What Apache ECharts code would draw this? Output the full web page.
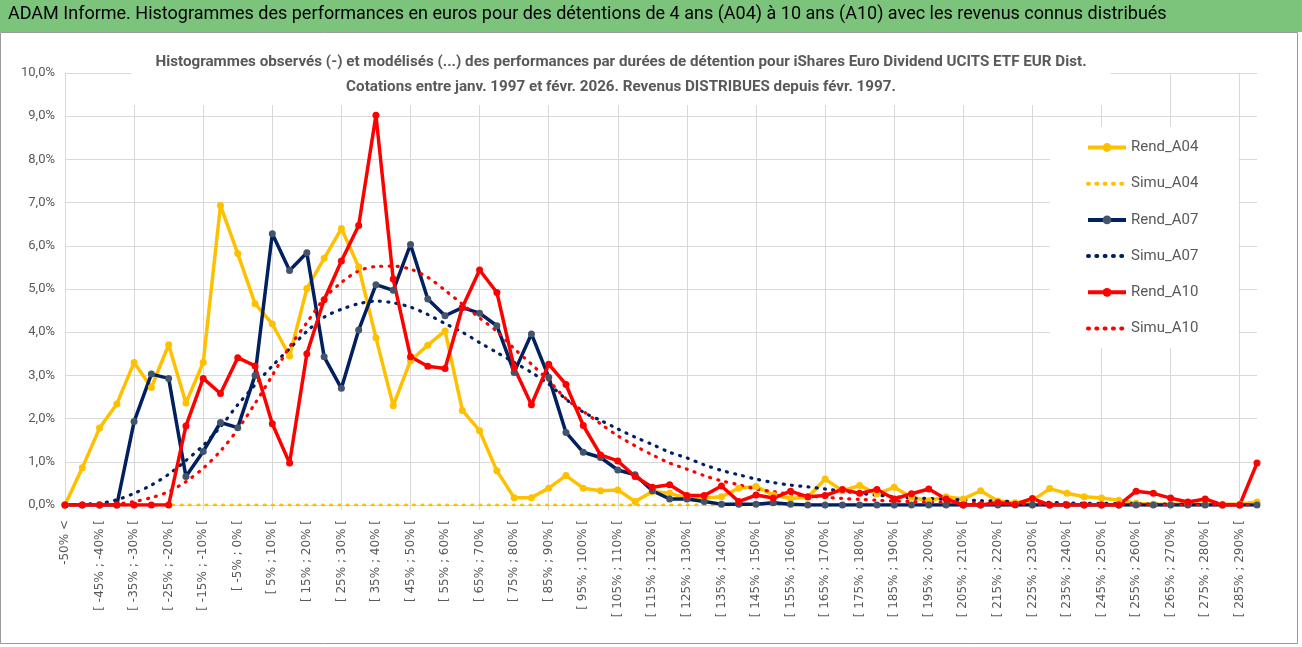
<!DOCTYPE html>
<html>
<head>
<meta charset="utf-8">
<script src="https://cdn.jsdelivr.net/npm/echarts@6/dist/echarts.min.js"></script>
<style>
  html, body { margin: 0; padding: 0; background: #fff; }
  #chart { width: 1302px; height: 647px; }
</style>
</head>
<body>
<div id="chart"></div>
<script>
// classes de performance (pas de 5%)
var categories = [
    "-50% <", "[ -50% ; -45% [", "[ -45% ; -40% [", "[ -40% ; -35% [", "[ -35% ; -30% [",
    "[ -30% ; -25% [", "[ -25% ; -20% [", "[ -20% ; -15% [", "[ -15% ; -10% [", "[ -10% ; -5% [",
    "[ -5% ; 0% [", "[ 0% ; 5% [", "[ 5% ; 10% [", "[ 10% ; 15% [", "[ 15% ; 20% [",
    "[ 20% ; 25% [", "[ 25% ; 30% [", "[ 30% ; 35% [", "[ 35% ; 40% [", "[ 40% ; 45% [",
    "[ 45% ; 50% [", "[ 50% ; 55% [", "[ 55% ; 60% [", "[ 60% ; 65% [", "[ 65% ; 70% [",
    "[ 70% ; 75% [", "[ 75% ; 80% [", "[ 80% ; 85% [", "[ 85% ; 90% [", "[ 90% ; 95% [",
    "[ 95% ; 100% [", "[ 100% ; 105% [", "[ 105% ; 110% [", "[ 110% ; 115% [", "[ 115% ; 120% [",
    "[ 120% ; 125% [", "[ 125% ; 130% [", "[ 130% ; 135% [", "[ 135% ; 140% [", "[ 140% ; 145% [",
    "[ 145% ; 150% [", "[ 150% ; 155% [", "[ 155% ; 160% [", "[ 160% ; 165% [", "[ 165% ; 170% [",
    "[ 170% ; 175% [", "[ 175% ; 180% [", "[ 180% ; 185% [", "[ 185% ; 190% [", "[ 190% ; 195% [",
    "[ 195% ; 200% [", "[ 200% ; 205% [", "[ 205% ; 210% [", "[ 210% ; 215% [", "[ 215% ; 220% [",
    "[ 220% ; 225% [", "[ 225% ; 230% [", "[ 230% ; 235% [", "[ 235% ; 240% [", "[ 240% ; 245% [",
    "[ 245% ; 250% [", "[ 250% ; 255% [", "[ 255% ; 260% [", "[ 260% ; 265% [", "[ 265% ; 270% [",
    "[ 270% ; 275% [", "[ 275% ; 280% [", "[ 280% ; 285% [", "[ 285% ; 290% [", "[ 290% ; 295% ["
];

// valeurs en %
var rendA04 = [
    0, 0.86, 1.78, 2.34, 3.30, 2.72, 3.71, 2.36, 3.30, 6.93,
    5.82, 4.66, 4.19, 3.45, 5.01, 5.71, 6.40, 5.51, 3.87, 2.30,
    3.34, 3.70, 4.03, 2.19, 1.72, 0.79, 0.17, 0.17, 0.39, 0.68,
    0.39, 0.33, 0.35, 0.08, 0.31, 0.27, 0.16, 0.16, 0.19, 0.39,
    0.43, 0.23, 0.15, 0.18, 0.60, 0.33, 0.45, 0.26, 0.41, 0.18,
    0.10, 0.19, 0.14, 0.33, 0.09, 0.05, 0.10, 0.38, 0.27, 0.19,
    0.16, 0.11, 0.04, 0.02, 0.02, 0.02, 0.02, 0.02, 0.02, 0.07
];
var simuA04 = [
    0, 0, 0, 0, 0, 0, 0, 0, 0, 0,
    0, 0, 0, 0, 0, 0, 0, 0, 0, 0,
    0, 0, 0, 0, 0, 0, 0, 0, 0, 0,
    0, 0, 0, 0, 0, 0, 0, 0, 0, 0,
    0, 0, 0, 0, 0, 0, 0, 0, 0, 0,
    0, 0, 0, 0, 0, 0, 0, 0, 0, 0,
    0, 0, 0, 0, 0, 0, 0, 0, 0, 0
];
var rendA07 = [
    0, 0, 0, 0, 1.93, 3.03, 2.93, 0.66, 1.24, 1.91,
    1.79, 3.00, 6.28, 5.43, 5.84, 3.43, 2.70, 4.05, 5.10, 4.97,
    6.03, 4.77, 4.38, 4.57, 4.44, 4.15, 3.07, 3.96, 2.96, 1.68,
    1.22, 1.10, 0.81, 0.70, 0.33, 0.14, 0.14, 0.08, 0.02, 0.02,
    0.02, 0.05, 0.02, 0, 0, 0, 0, 0, 0, 0,
    0, 0, 0, 0, 0, 0, 0, 0, 0, 0,
    0, 0, 0, 0, 0, 0, 0, 0, 0, 0
];
var simuA07 = [
    0, 0.02, 0.04, 0.12, 0.27, 0.46, 0.71, 1.03, 1.38, 1.81,
    2.32, 2.78, 3.22, 3.62, 4.02, 4.35, 4.53, 4.66, 4.72, 4.68,
    4.58, 4.41, 4.20, 4.00, 3.76, 3.53, 3.30, 3.07, 2.80, 2.45,
    2.15, 1.96, 1.76, 1.57, 1.40, 1.22, 1.09, 0.93, 0.80, 0.70,
    0.60, 0.52, 0.46, 0.42, 0.37, 0.32, 0.27, 0.23, 0.19, 0.16,
    0.15, 0.13, 0.12, 0.10, 0.09, 0.08, 0.07, 0.06, 0.05, 0.04,
    0.04, 0.03, 0.03, 0.02, 0.02, 0.02, 0.01, 0.01, 0.01, 0.01
];
var rendA10 = [
    0, 0, 0, 0, 0, 0, 0, 1.83, 2.93, 2.58,
    3.41, 3.22, 1.88, 0.97, 3.50, 4.75, 5.65, 6.47, 9.02, 5.23,
    3.43, 3.21, 3.16, 4.57, 5.44, 4.92, 3.18, 2.32, 3.26, 2.79,
    1.84, 1.16, 1.02, 0.66, 0.41, 0.47, 0.22, 0.22, 0.44, 0.08,
    0.23, 0.16, 0.32, 0.19, 0.22, 0.36, 0.27, 0.36, 0.14, 0.26,
    0.37, 0.14, 0, 0, 0.06, 0.02, 0.15, 0, 0, 0,
    0, 0, 0.32, 0.27, 0.16, 0.07, 0.14, 0, 0, 0.97
];
var simuA10 = [
    0, 0, 0, 0.02, 0.08, 0.17, 0.31, 0.54, 0.85, 1.25,
    1.75, 2.35, 3.00, 3.66, 4.22, 4.78, 5.15, 5.42, 5.52, 5.53,
    5.46, 5.27, 4.97, 4.65, 4.33, 4.02, 3.62, 3.26, 2.88, 2.46,
    2.17, 1.88, 1.60, 1.37, 1.16, 0.97, 0.83, 0.68, 0.56, 0.47,
    0.37, 0.31, 0.25, 0.21, 0.18, 0.15, 0.13, 0.11, 0.09, 0.08,
    0.07, 0.06, 0.05, 0.04, 0.03, 0.03, 0.02, 0.02, 0.01, 0.01,
    0.01, 0.01, 0.01, 0, 0, 0, 0, 0, 0, 0
];

var dom = document.getElementById("chart");
var chart = echarts.init(dom);

var gridColor = '#d9d9d9';
var textColor = '#595959';
var fontName = 'Roboto, "Open Sans", sans-serif';

function rendSerie(name, data, color, markerColor) {
    return {
        name: name,
        type: 'line',
        data: data,
        symbol: 'circle',
        symbolSize: 7,
        itemStyle: { color: markerColor, borderWidth: 0 },
        lineStyle: { color: color, width: 3.5 },
        emphasis: { disabled: true }
    };
}

function simuSerie(name, data, color) {
    return {
        name: name,
        type: 'line',
        data: data,
        symbol: 'none',
        smooth: 0.3,
        itemStyle: { color: color },
        lineStyle: { color: color, width: 3.2, type: [1, 7.3], cap: 'round' },
        emphasis: { disabled: true }
    };
}

// pas de marqueur dans la légende pour les courbes simulées
var legendItems = [
    { name: 'Rend_A04' },
    { name: 'Simu_A04', itemStyle: { opacity: 0 } },
    { name: 'Rend_A07' },
    { name: 'Simu_A07', itemStyle: { opacity: 0 } },
    { name: 'Rend_A10' },
    { name: 'Simu_A10', itemStyle: { opacity: 0 } }
];

var option = {
    animation: false,
    backgroundColor: '#fff',
    textStyle: { fontFamily: fontName },
    graphic: [
        {
            type: 'rect',
            shape: { x: 0, y: 0, width: 1302, height: 32 },
            style: { fill: '#7cc47c' },
            z: 0
        },
        {
            type: 'rect',
            shape: { x: 0.5, y: 32.5, width: 1297, height: 611 },
            style: { fill: 'none', stroke: '#9a9a9a', lineWidth: 1 },
            z: 0
        }
    ],
    title: [
        {
            text: 'ADAM Informe. Histogrammes des performances en euros pour des détentions de 4 ans (A04) à 10 ans (A10) avec les revenus connus distribués',
            left: 8,
            top: 5,
            padding: 0,
            textStyle: { fontSize: 18, fontWeight: 'normal', color: '#000', fontFamily: fontName }
        },
        {
            text: 'Histogrammes observés (-) et modélisés (...) des performances par durées de détention pour iShares Euro Dividend UCITS ETF EUR Dist.\nCotations entre janv. 1997 et févr. 2026. Revenus DISTRIBUES depuis févr. 1997.',
            left: 597,
            textAlign: 'center',
            top: 46,
            padding: [4, 24, 5, 24],
            backgroundColor: '#fff',
            textStyle: { fontSize: 15.2, fontWeight: 'bold', color: textColor, lineHeight: 25, fontFamily: fontName }
        }
    ],
    legend: {
        data: legendItems,
        orient: 'vertical',
        left: 1050,
        top: 127,
        padding: [13, 40, 12, 36],
        backgroundColor: '#fff',
        itemWidth: 38,
        itemHeight: 11,
        itemGap: 21.2,
        lineStyle: { width: 4 },
        textStyle: { fontSize: 15, color: textColor, fontFamily: fontName }
    },
    grid: {
        left: 65,
        right: 45,
        top: 73,
        bottom: 142,
        containLabel: false
    },
    xAxis: {
        type: 'category',
        data: categories,
        boundaryGap: false,
        axisLine: { lineStyle: { color: gridColor, width: 1 } },
        axisTick: { show: true, interval: 3, length: 5, lineStyle: { color: gridColor } },
        splitLine: { show: true, interval: 3, lineStyle: { color: gridColor, width: 1 } },
        axisLabel: {
            interval: 1,
            rotate: 90,
            margin: 15,
            fontSize: 12,
            color: textColor,
            fontFamily: '"DejaVu Sans", sans-serif'
        }
    },
    yAxis: {
        type: 'value',
        min: 0,
        max: 10,
        interval: 1,
        axisLine: { show: false },
        axisTick: { show: false },
        splitLine: { lineStyle: { color: gridColor, width: 1 } },
        axisLabel: {
            margin: 10,
            fontSize: 13,
            color: textColor,
            fontFamily: fontName,
            formatter: function (v) { return v.toFixed(1).replace('.', ',') + '%'; }
        }
    },
    series: [
        rendSerie('Rend_A04', rendA04, '#ffc000', '#ffc000'),
        simuSerie('Simu_A04', simuA04, '#ffc000'),
        rendSerie('Rend_A07', rendA07, '#002060', '#44546a'),
        simuSerie('Simu_A07', simuA07, '#002060'),
        rendSerie('Rend_A10', rendA10, '#ff0000', '#ff0000'),
        simuSerie('Simu_A10', simuA10, '#ff0000')
    ]
};

if (option && typeof option === "object") {
    chart.setOption(option, true);
}
</script>
</body>
</html>
